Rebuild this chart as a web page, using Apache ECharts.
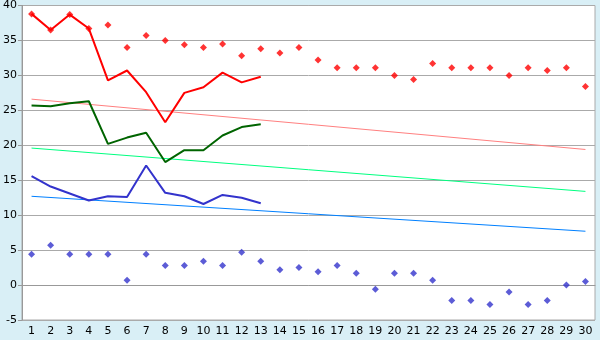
<!DOCTYPE html>
<html><head><meta charset="utf-8">
<script src="https://cdn.jsdelivr.net/npm/echarts@6/dist/echarts.min.js"></script>
<style>html,body{margin:0;padding:0;background:#d9eff6;}#c{width:600px;height:340px;}</style>
</head><body><div id="c"></div>
<script>
var categories = ['1','2','3','4','5','6','7','8','9','10','11','12','13','14','15','16','17','18','19','20','21','22','23','24','25','26','27','28','29','30'];
var maxPoints = [38.8,36.5,38.7,36.7,37.2,34.0,35.7,35.0,34.4,34.0,34.5,32.8,33.8,33.2,34.0,32.2,31.1,31.1,31.1,30.0,29.4,31.7,31.1,31.1,31.1,30.0,31.1,30.7,31.1,28.4];
var minPoints = [4.4,5.7,4.4,4.4,4.4,0.7,4.4,2.8,2.8,3.4,2.8,4.7,3.4,2.2,2.5,1.9,2.8,1.7,-0.6,1.7,1.7,0.7,-2.2,-2.2,-2.8,-1.0,-2.8,-2.2,0.0,0.5];
var redLine = [38.8,36.5,38.7,36.7,29.3,30.7,27.6,23.3,27.5,28.3,30.4,29.0,29.8];
var greenLine = [25.7,25.6,26.0,26.3,20.2,21.1,21.8,17.6,19.3,19.3,21.4,22.6,23.0];
var blueLine = [15.6,14.1,13.1,12.1,12.7,12.6,17.1,13.2,12.7,11.6,12.9,12.5,11.7];
var redTrend = [26.6,19.4];
var greenTrend = [19.6,13.4];
var blueTrend = [12.7,7.7];
var yMin = -5, yMax = 40, yStep = 5;

function trend(v){ return [[0, v[0]], [categories.length-1, v[1]]]; }

var chart = echarts.init(document.getElementById('c'));
var font = 'DejaVu Sans';
chart.setOption({
  animation: false,
  backgroundColor: '#d9eff6',
  grid: {left: 21, top: 5, right: 5, bottom: 20, show: true, backgroundColor: '#ffffff', borderColor: '#aaaaaa', borderWidth: 1},
  xAxis: {
    type: 'category', data: categories, boundaryGap: true,
    axisLine: {lineStyle: {color: '#999999'}},
    axisTick: {alignWithLabel: true, length: 5, lineStyle: {color: '#666666'}},
    axisLabel: {color: '#000', fontFamily: font, fontSize: 11, margin: 6, interval: 0},
    splitLine: {show: false}
  },
  yAxis: {
    type: 'value', min: yMin, max: yMax, interval: yStep,
    axisLine: {show: true, lineStyle: {color: '#999999'}},
    axisTick: {show: true, length: 4, lineStyle: {color: '#999999'}},
    axisLabel: {color: '#000', fontFamily: font, fontSize: 11, margin: 5},
    splitLine: {lineStyle: {color: '#aaaaaa', width: 1}}
  },
  series: [
    {type: 'line', data: trend(redTrend), symbol: 'none', lineStyle: {color: '#ff8080', width: 1}, z: 1},
    {type: 'line', data: trend(greenTrend), symbol: 'none', lineStyle: {color: '#00ff80', width: 1}, z: 1},
    {type: 'line', data: trend(blueTrend), symbol: 'none', lineStyle: {color: '#0080ff', width: 1}, z: 1},
    {type: 'line', data: redLine, symbol: 'none', lineStyle: {color: '#ff0000', width: 2}, z: 2},
    {type: 'line', data: greenLine, symbol: 'none', lineStyle: {color: '#006400', width: 2}, z: 2},
    {type: 'line', data: blueLine, symbol: 'none', lineStyle: {color: '#3333cc', width: 2}, z: 2},
    {type: 'scatter', data: maxPoints, symbol: 'diamond', symbolSize: 7, itemStyle: {color: '#ff0000'}, z: 3},
    {type: 'scatter', data: minPoints, symbol: 'diamond', symbolSize: 7, itemStyle: {color: '#3333cc'}, z: 3}
  ]
});
</script></body></html>
